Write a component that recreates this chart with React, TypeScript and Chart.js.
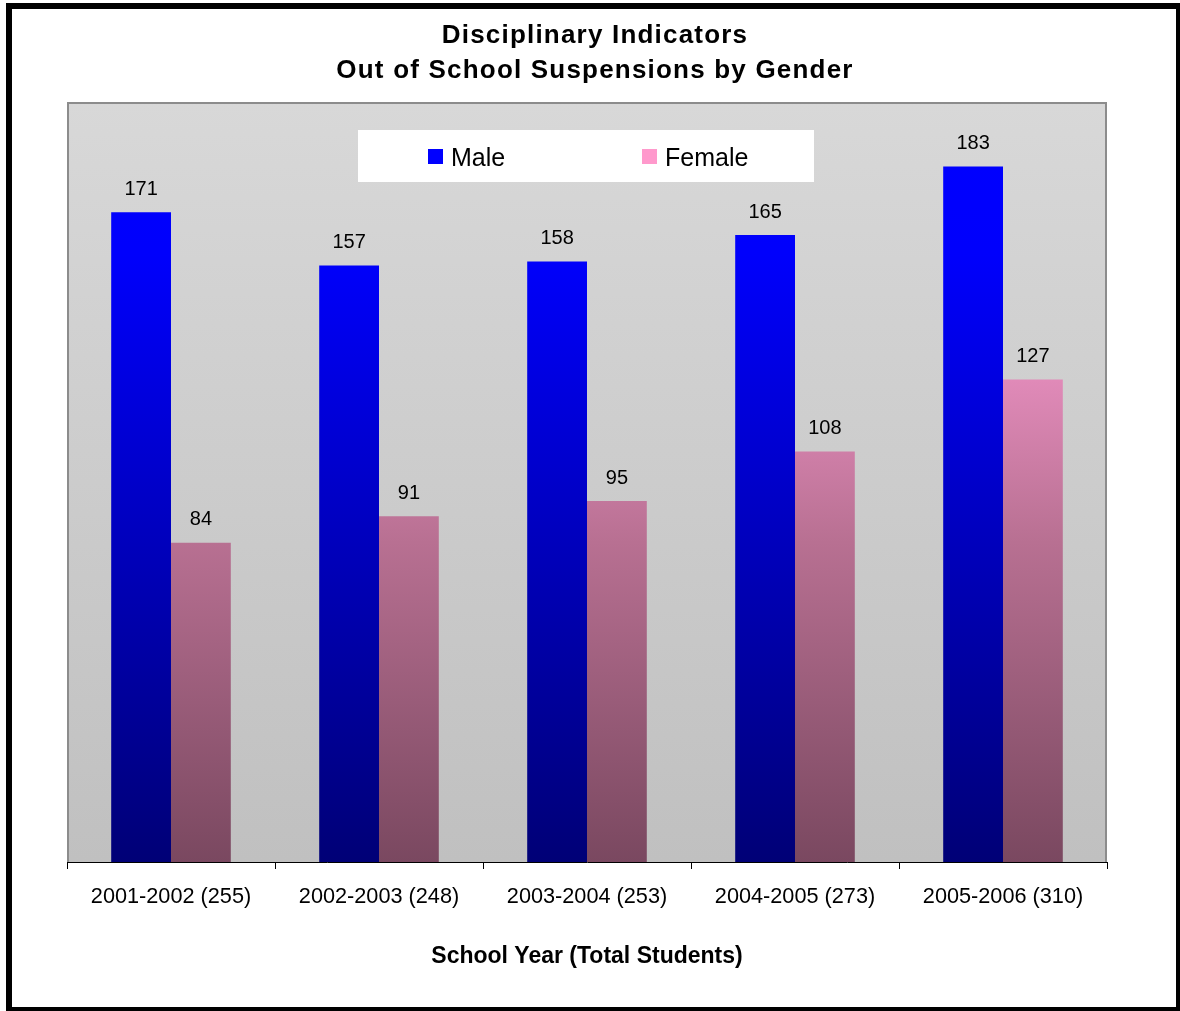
import React, { useEffect, useRef } from "react";
import { Chart, registerables } from "chart.js";

Chart.register(...registerables);

const categories = [
  "2001-2002 (255)",
  "2002-2003 (248)",
  "2003-2004 (253)",
  "2004-2005 (273)",
  "2005-2006 (310)",
];
const maleValues = [171, 157, 158, 165, 183];
const femaleValues = [84, 91, 95, 108, 127];
const seriesLabels = ["Male", "Female"];
const legendSwatches = ["#0000ff", "#ff99cc"];
const titleLines = ["Disciplinary Indicators", "Out of School Suspensions by Gender"];
const xAxisTitle = "School Year (Total Students)";
const yMin = 0;
const yMax = 200;

const FONT = "'Liberation Sans', Arial, Helvetica, sans-serif";

function makeGradient(chart: any, stops: [number, string][], fallback: string) {
  const area = chart.chartArea;
  if (!area) return fallback;
  const g = chart.ctx.createLinearGradient(0, area.top, 0, area.bottom);
  stops.forEach(([o, c]) => g.addColorStop(o, c));
  return g;
}

const framePlugin = {
  id: "frame",
  beforeDraw(chart: any) {
    const { ctx, width, height, chartArea: a } = chart;
    ctx.save();
    ctx.fillStyle = "#ffffff";
    ctx.fillRect(0, 0, width, height);
    // outer black frame
    ctx.fillStyle = "#000000";
    ctx.fillRect(6, 3, width - 6, 6);
    ctx.fillRect(6, 3, 6, height - 3);
    ctx.fillRect(width - 4, 3, 4, height - 3);
    ctx.fillRect(6, height - 4, width - 6, 4);
    // plot area
    const g = ctx.createLinearGradient(0, a.top, 0, a.bottom);
    g.addColorStop(0, "#d8d8d8");
    g.addColorStop(1, "#c0c0c0");
    ctx.fillStyle = g;
    ctx.fillRect(a.left, a.top, a.right - a.left, a.bottom - a.top);
    ctx.strokeStyle = "#8c8c8c";
    ctx.lineWidth = 2;
    ctx.beginPath();
    ctx.moveTo(a.left + 1, a.bottom);
    ctx.lineTo(a.left + 1, a.top + 1);
    ctx.lineTo(a.right - 1, a.top + 1);
    ctx.lineTo(a.right - 1, a.bottom);
    ctx.stroke();
    ctx.restore();
  },
  afterDatasetsDraw(chart: any) {
    const { ctx, chartArea: a } = chart;
    ctx.save();
    // data labels
    ctx.fillStyle = "#000000";
    ctx.font = `20px ${FONT}`;
    ctx.textAlign = "center";
    ctx.textBaseline = "middle";
    chart.data.datasets.forEach((ds: any, di: number) => {
      const meta = chart.getDatasetMeta(di);
      meta.data.forEach((bar: any, i: number) => {
        ctx.fillText(String(ds.data[i]), bar.x, bar.y - 23);
      });
    });
    // legend box
    const bx = a.left + 291;
    const by = a.top + 28;
    ctx.fillStyle = "#ffffff";
    ctx.fillRect(bx, by, 456, 52);
    const itemX = [bx + 70, bx + 284];
    ctx.font = `25px ${FONT}`;
    ctx.textAlign = "left";
    chart.data.datasets.forEach((ds: any, di: number) => {
      ctx.fillStyle = legendSwatches[di];
      ctx.fillRect(itemX[di], by + 19, 15, 15);
      ctx.fillStyle = "#000000";
      ctx.fillText(ds.label, itemX[di] + 23, by + 29);
    });
    ctx.restore();
  },
  afterDraw(chart: any) {
    const { ctx } = chart;
    ctx.save();
    ctx.fillStyle = "#000000";
    ctx.font = `bold 26px ${FONT}`;
    (ctx as any).letterSpacing = "1.2px";
    ctx.textAlign = "center";
    ctx.textBaseline = "middle";
    ctx.fillText(titleLines[0], 595, 36);
    ctx.fillText(titleLines[1], 595, 71);
    ctx.restore();
  },
};

export default function App() {
  const ref = useRef<HTMLCanvasElement | null>(null);

  useEffect(() => {
    if (!ref.current) return;
    const chart = new Chart(ref.current, {
      type: "bar",
      data: {
        labels: categories,
        datasets: [
          {
            label: seriesLabels[0],
            data: maleValues,
            backgroundColor: (c: any) =>
              makeGradient(c.chart, [[0, "#0000ff"], [0.2, "#0000fc"], [1, "#000076"]], "#0000ff"),
            borderWidth: 0,
            categoryPercentage: 0.575,
            barPercentage: 1,
          },
          {
            label: seriesLabels[1],
            data: femaleValues,
            backgroundColor: (c: any) =>
              makeGradient(
                c.chart,
                [
                  [0, "#ffa2d2"],
                  [0.367, "#e08ab8"],
                  [0.579, "#b87092"],
                  [1, "#7a4860"],
                ],
                "#ff99cc"
              ),
            borderWidth: 0,
            categoryPercentage: 0.575,
            barPercentage: 1,
          },
        ],
      },
      options: {
        responsive: false,
        animation: false,
        events: [],
        layout: { padding: { left: 67, right: 73, top: 102, bottom: 0 } },
        plugins: {
          legend: { display: false },
          title: { display: false },
          tooltip: { enabled: false },
        },
        scales: {
          x: {
            z: 1,
            grid: {
              display: true,
              drawOnChartArea: false,
              drawTicks: true,
              tickLength: 7,
              color: "#000000",
              offset: true,
            },
            border: { display: true, color: "#000000", width: 1 },
            ticks: {
              font: { family: FONT, size: 21.7 },
              color: "#000000",
              padding: 15,
              maxRotation: 0,
              autoSkip: false,
            },
            title: {
              display: true,
              text: xAxisTitle,
              font: { family: FONT, size: 23, weight: "bold" },
              color: "#000000",
              padding: { top: 0, bottom: 41 },
            },
            afterFit: (s: any) => {
              s.height = 149;
            },
          },
          y: { display: false, min: yMin, max: yMax },
        },
      },
      plugins: [framePlugin],
    } as any);
    return () => chart.destroy();
  }, []);

  return (
    <div style={{ position: "fixed", left: 0, top: 0, width: 1180, height: 1011 }}>
      <canvas ref={ref} width={1180} height={1011} style={{ display: "block" }} />
    </div>
  );
}
